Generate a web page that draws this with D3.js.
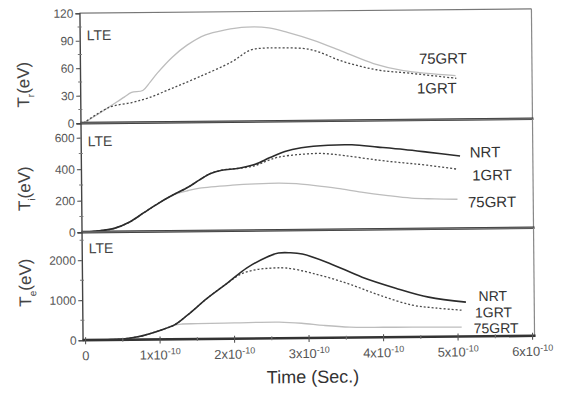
<!DOCTYPE html>
<html>
<head>
<meta charset="utf-8">
<script src="https://cdn.jsdelivr.net/npm/d3@7/dist/d3.min.js"></script>
<style>
  html, body { margin: 0; padding: 0; background: #fff; }
  svg { display: block; }
  text { font-family: "Liberation Sans", Arial, sans-serif; }
</style>
</head>
<body>
<svg id="chart" width="563" height="395"></svg>
<script>
// Time in units of 1e-10 s
const timeTicks = [0, 1, 2, 3, 4, 5, 6];

// Radiation temperature T_r (eV)
const trTicks = [0, 30, 60, 90, 120];
const tr1GRT = [[0,0],[0.35,17],[0.65,22],[0.88,27],[1.19,37],[1.55,49],[1.99,65],[2.25,78],[2.44,80],[2.61,80],[3.05,78],[3.51,64],[3.95,55],[4.39,51],[5.01,45]];
const tr75GRT = [[0,0],[0.3,15],[0.55,28],[0.65,33],[0.8,35],[0.9,44],[1.0,54],[1.2,71],[1.4,84],[1.65,95],[1.9,100],[2.2,103],[2.5,102],[2.75,97],[3.1,88],[3.5,75],[3.9,62],[4.3,54],[5.0,48]];

// Ion temperature T_i (eV)
const tiTicks = [0, 200, 400, 600];
const tiNRT = [[0,0],[0.2,8],[0.4,22],[0.6,60],[0.8,120],[1.0,180],[1.19,230],[1.4,280],[1.55,325],[1.7,365],[1.85,385],[2.08,396],[2.3,420],[2.5,462],[2.7,500],[2.92,522],[3.28,537],[3.6,538],[3.95,522],[4.3,505],[4.61,487],[5.05,460]];
const ti1GRT = [[0,0],[0.2,8],[0.4,22],[0.6,60],[0.8,120],[1.0,180],[1.19,230],[1.4,280],[1.55,325],[1.7,365],[1.85,385],[2.08,396],[2.3,412],[2.45,440],[2.61,464],[2.9,480],[3.19,485],[3.5,470],[3.95,439],[4.3,420],[4.61,404],[5.01,377]];
const ti75GRT = [[0,0],[0.2,8],[0.4,22],[0.6,60],[0.8,120],[1.0,180],[1.19,230],[1.4,258],[1.55,272],[1.99,289],[2.3,296],[2.61,299],[2.85,295],[3.05,284],[3.4,262],[3.72,237],[4.05,215],[4.39,196],[4.7,190],[5.01,186]];

// Electron temperature T_e (eV)
const teTicks = [0, 1000, 2000];
const teNRT = [[0,0],[0.3,5],[0.5,20],[0.7,70],[0.85,140],[1.01,232],[1.19,354],[1.37,600],[1.64,1020],[1.91,1391],[2.17,1761],[2.44,2031],[2.6,2130],[2.75,2135],[2.92,2100],[3.28,1866],[3.72,1508],[4.17,1225],[4.61,992],[5.11,858]];
const te1GRT = [[0,0],[0.3,5],[0.5,20],[0.7,70],[0.85,140],[1.01,232],[1.19,354],[1.37,600],[1.64,1020],[1.91,1391],[2.1,1620],[2.3,1720],[2.5,1755],[2.7,1755],[3.05,1620],[3.51,1362],[3.95,1054],[4.39,796],[4.7,720],[5.05,659]];
const te75GRT = [[0,0],[0.3,5],[0.5,20],[0.7,70],[0.85,140],[1.01,232],[1.19,354],[1.3,380],[1.5,385],[2.0,395],[2.6,403],[2.9,370],[3.2,310],[3.55,261],[4.0,250],[4.39,246],[5.05,234]];

const styles = {
  NRT:   { stroke: "#2b2b2b", width: 1.6, dash: null },
  "1GRT":  { stroke: "#4a4a4a", width: 1.3, dash: "2,2" },
  "75GRT": { stroke: "#bdbdbd", width: 1.3, dash: null }
};

const svg = d3.select("#chart");
// the whole figure sits slightly tilted on the page
const root = svg.append("g").attr("transform", "rotate(-0.55, 307, 175)");

const left = 81, right = 533;
const x = d3.scaleLinear().domain([0, 6]).range([84, 531]);

const panels = [
  { top: 11, bottom: 121, max: 120, ticks: trTicks, minor: 15, sub: "r",
    series: [["75GRT", tr75GRT], ["1GRT", tr1GRT]],
    labels: [["75GRT", 4.51, 67], ["1GRT", 4.48, 34.6]], lte: 22, titleY: 82 },
  { top: 121, bottom: 230, max: 692, ticks: tiTicks, minor: 100, sub: "i",
    series: [["75GRT", ti75GRT], ["1GRT", ti1GRT], ["NRT", tiNRT]],
    labels: [["NRT", 5.18, 485], ["1GRT", 5.21, 339], ["75GRT", 5.15, 168]], lte: 18, titleY: 186 },
  { top: 230, bottom: 338, max: 2700, ticks: teTicks, minor: 500, sub: "e",
    series: [["75GRT", te75GRT], ["1GRT", te1GRT], ["NRT", teNRT]],
    labels: [["NRT", 5.28, 1010], ["1GRT", 5.23, 600], ["75GRT", 5.21, 205]], lte: 16, titleY: 280, labelSize: 14 }
];

panels.forEach(p => {
  const y = d3.scaleLinear().domain([0, p.max]).range([p.bottom, p.top]);
  const g = root.append("g");

  // frame: top and right edges thin
  g.append("line").attr("x1", left).attr("x2", right).attr("y1", p.top).attr("y2", p.top)
    .attr("stroke", "#777").attr("stroke-width", 1.2);
  g.append("line").attr("x1", right).attr("x2", right).attr("y1", p.top).attr("y2", p.bottom)
    .attr("stroke", "#888").attr("stroke-width", 1.2);

  // left axis with major and minor ticks
  const minorVals = d3.range(0, p.max + 0.001, p.minor).filter(v => !p.ticks.includes(v));
  const yAxis = d3.axisLeft(y).tickValues(p.ticks).tickSize(4).tickPadding(2).tickFormat(d3.format("d"));
  const ag = g.append("g").attr("transform", `translate(${left},0)`).call(yAxis);
  ag.select(".domain").attr("stroke", "#444").attr("stroke-width", 1.4);
  ag.selectAll(".tick line").attr("stroke", "#555").attr("stroke-width", 1.1);
  ag.selectAll(".tick text").attr("fill", "#555").style("font-size", "12px")
    .style("font-family", "'Liberation Sans', Arial, sans-serif");
  g.append("g").selectAll("line").data(minorVals).join("line")
    .attr("x1", left - 2).attr("x2", left + 2)
    .attr("y1", d => y(d)).attr("y2", d => y(d))
    .attr("stroke", "#777").attr("stroke-width", 1);

  // series
  const line = d3.line().x(d => x(d[0])).y(d => y(d[1])).curve(d3.curveCatmullRom.alpha(0.5));
  p.series.forEach(([name, data]) => {
    const s = styles[name];
    g.append("path").attr("d", line(data)).attr("fill", "none")
      .attr("stroke", s.stroke).attr("stroke-width", s.width)
      .attr("stroke-dasharray", s.dash);
  });

  // curve labels
  p.labels.forEach(([name, t, v]) => {
    g.append("text").attr("x", x(t)).attr("y", y(v)).attr("dy", "0.36em")
      .attr("fill", "#333").style("font-size", (p.labelSize || 15) + "px").text(name);
  });

  // bottom edge of the panel drawn heavy
  g.append("line").attr("x1", left).attr("x2", right + 1).attr("y1", p.bottom).attr("y2", p.bottom)
    .attr("stroke", "#333").attr("stroke-width", 2.6);

  g.append("text").attr("x", left + 7).attr("y", p.top + p.lte).attr("dy", "0.36em")
    .attr("fill", "#444").style("font-size", "14px").text("LTE");

  // axis title
  const tt = g.append("text").attr("transform", `translate(30,${p.titleY}) rotate(-90)`)
    .attr("text-anchor", "middle").attr("fill", "#444").style("font-size", "17px");
  tt.append("tspan").text("T");
  tt.append("tspan").attr("dy", 5).style("font-size", "10px").text(p.sub);
  tt.append("tspan").attr("dy", -5).text("(eV)");
});

// time axis
const bottomY = 338;
const xMinor = d3.range(0.5, 6, 1);
root.append("g").selectAll("line").data(timeTicks).join("line")
  .attr("x1", d => x(d)).attr("x2", d => x(d)).attr("y1", bottomY - 3).attr("y2", bottomY + 4)
  .attr("stroke", "#555").attr("stroke-width", 1.1);
root.append("g").selectAll("line").data(xMinor).join("line")
  .attr("x1", d => x(d)).attr("x2", d => x(d)).attr("y1", bottomY - 2).attr("y2", bottomY + 2)
  .attr("stroke", "#777").attr("stroke-width", 1);

const xl = root.append("g").selectAll("text").data(timeTicks).join("text")
  .attr("x", d => x(d)).attr("y", bottomY + 20).attr("text-anchor", "middle")
  .attr("fill", "#555").style("font-size", "13px");
xl.each(function(d) {
  const t = d3.select(this);
  if (d === 0) { t.text("0"); return; }
  t.append("tspan").text(d + "x10");
  t.append("tspan").attr("dy", -5).style("font-size", "9px").text("-10");
});

root.append("text").attr("x", 311).attr("y", 383).attr("text-anchor", "middle")
  .attr("fill", "#333").style("font-size", "18px").text("Time (Sec.)");
</script>
</body>
</html>
